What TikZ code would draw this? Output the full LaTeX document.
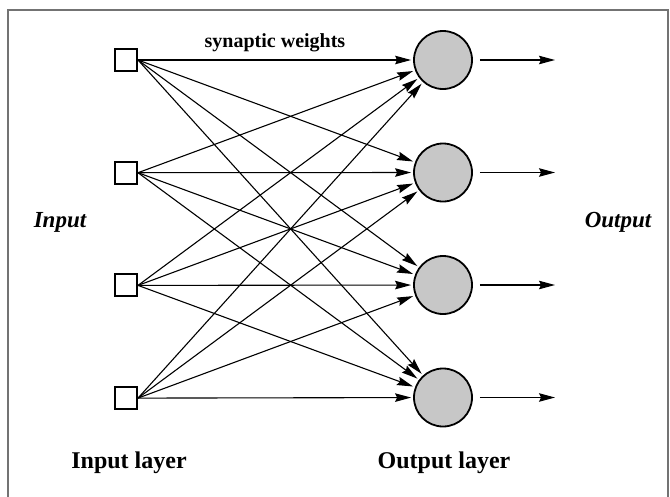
\documentclass[tikz,border=0pt]{standalone}
\usepackage{fontspec}
\setmainfont{Liberation Serif}
\usetikzlibrary{arrows.meta, positioning}

\begin{document}
\begin{tikzpicture}[
    x=1pt, y=-1pt,
    unit/.style={rectangle, draw, line width=2pt, minimum size=22pt, inner sep=0pt},
    neuron/.style={circle, draw, line width=1.8pt, fill=black!22, minimum size=58pt, inner sep=0pt},
    label/.style={font=\bfseries, inner sep=0pt},
    weight/.style={-{Stealth[length=16pt, width=8.5pt, inset=2pt]}, line width=1.1pt, shorten >=2pt},
    outarrow/.style={-{Stealth[length=16pt, width=8.5pt, inset=2pt]}, line width=1.1pt, shorten <=7pt}
]
\useasboundingbox (0,0) rectangle (670,496);

% frame
\draw[black!55, line width=1.2pt] (8,497) -- (8,10) -- (668,10) -- (668,497);

% input layer
\node[unit] (in1) at (126,60) {};
\node[unit, below=88.7pt of in1] (in2) {};
\node[unit, below=88.7pt of in2] (in3) {};
\node[unit, below=88.7pt of in3] (in4) {};

% output layer
\node[neuron] (out1) at (443,60) {};
\node[neuron, below=52.7pt of out1] (out2) {};
\node[neuron, below=52.7pt of out2] (out3) {};
\node[neuron, below=52.7pt of out3] (out4) {};

% labels
\node[label, font=\bfseries\fontsize{20}{24}\selectfont] (syn) at (275,43) {synaptic weights};
\node[label, font=\bfseries\itshape\fontsize{23}{28}\selectfont] (inlab) at (60,222) {Input};
\node[label, font=\bfseries\itshape\fontsize{23}{28}\selectfont] (outlab) at (618,222) {Output};
\node[label, font=\bfseries\fontsize{24}{29}\selectfont] (inlayer) at (129,463) {Input layer};
\node[label, font=\bfseries\fontsize{24}{29}\selectfont] (outlayer) at (444,463) {Output layer};

% synaptic weights
\draw[weight] (in1.east) -- (out1);
\draw[weight] (in1.east) -- (out2);
\draw[weight] (in1.east) -- (out3);
\draw[weight] (in1.east) -- (out4);
\draw[weight] (in2.east) -- (out1);
\draw[weight] (in2.east) -- (out2);
\draw[weight] (in2.east) -- (out3);
\draw[weight] (in2.east) -- (out4);
\draw[weight] (in3.east) -- (out1);
\draw[weight] (in3.east) -- (out2);
\draw[weight] (in3.east) -- (out3);
\draw[weight] (in3.east) -- (out4);
\draw[weight] (in4.east) -- (out1);
\draw[weight] (in4.east) -- (out2);
\draw[weight] (in4.east) -- (out3);
\draw[weight] (in4.east) -- (out4);

% outputs
\coordinate (y1) at (555,0 |- out1);
\coordinate (y2) at (555,0 |- out2);
\coordinate (y3) at (555,0 |- out3);
\coordinate (y4) at (555,0 |- out4);
\draw[outarrow] (out1.east) -- (y1);
\draw[outarrow] (out2.east) -- (y2);
\draw[outarrow] (out3.east) -- (y3);
\draw[outarrow] (out4.east) -- (y4);

\end{tikzpicture}
\end{document}
